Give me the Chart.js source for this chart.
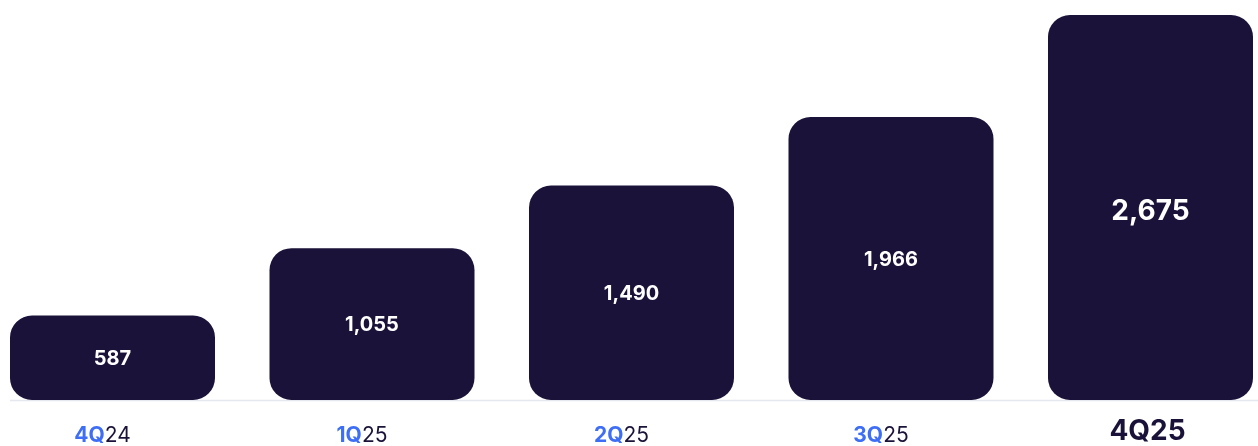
<!DOCTYPE html>
<html>
<head>
<meta charset="utf-8">
<script src="https://cdn.jsdelivr.net/npm/chart.js@4"></script>
<style>
  html, body { margin: 0; padding: 0; background: #fff; }
  #wrap { width: 1258px; height: 446px; position: relative; }
</style>
</head>
<body>
<div id="wrap"><canvas id="barChart"></canvas></div>
<script>
var quarters = ["4Q", "1Q", "2Q", "3Q", "4Q"];
var years = ["24", "25", "25", "25", "25"];
var values = [587, 1055, 1490, 1966, 2675];

var navy = "#1a1238";
var blue = "#3d6ef5";
var fontName = "Inter, 'Open Sans', sans-serif";

// labels inside bars + split-colour quarter labels under axis
var labelPlugin = {
    id: "labelPlugin",
    beforeDatasetsDraw: function (chart) {
        var ctx = chart.ctx;
        var y0 = chart.scales.y.getPixelForValue(0);
        ctx.save();
        ctx.strokeStyle = "#e6e8ef";
        ctx.lineWidth = 1.5;
        ctx.beginPath();
        ctx.moveTo(10, y0 + 0.5);
        ctx.lineTo(chart.width, y0 + 0.5);
        ctx.stroke();
        ctx.restore();
    },
    afterDraw: function (chart) {
        var ctx = chart.ctx;
        var meta = chart.getDatasetMeta(0);
        var last = values.length - 1;
        ctx.save();
        ctx.textBaseline = "middle";
        meta.data.forEach(function (bar, i) {
            var mid = (bar.y + bar.base) / 2;
            ctx.fillStyle = "#fff";
            ctx.textAlign = "center";
            ctx.font = (i === last ? "bold 28px " : "bold 20px ") + fontName;
            ctx.fillText(values[i].toLocaleString("en-US"), bar.x, mid + (i === last ? 4 : 1));

            var x = chart.scales.x.getPixelForTick(i);
            var y = 436;
            if (i === last) {
                ctx.font = "bold 28px " + fontName;
                ctx.fillStyle = navy;
                ctx.textAlign = "center";
                ctx.fillText(quarters[i] + years[i], x - 3, y - 4);
            } else {
                ctx.font = "bold 21px " + fontName;
                var w1 = ctx.measureText(quarters[i]).width;
                ctx.font = "21px " + fontName;
                var w2 = ctx.measureText(years[i]).width;
                var start = x - 10 - (w1 + w2) / 2;
                ctx.textAlign = "left";
                ctx.font = "bold 21px " + fontName;
                ctx.fillStyle = blue;
                ctx.fillText(quarters[i], start, y);
                ctx.font = "21px " + fontName;
                ctx.fillStyle = navy;
                ctx.fillText(years[i], start + w1, y);
            }
        });
        ctx.restore();
    }
};

var barCanvas = document.getElementById("barChart").getContext("2d");
new Chart(barCanvas, {
    type: "bar",
    data: {
        labels: quarters.map(function (q, i) { return q + years[i]; }),
        datasets: [
            {
                data: values,
                backgroundColor: navy,
                borderRadius: 22,
                borderSkipped: false,
                barPercentage: 0.79,
                categoryPercentage: 1,
                clip: false,
            },
        ],
    },
    options: {
        responsive: true,
        maintainAspectRatio: false,
        animation: false,
        layout: {
            padding: { left: 112.5, right: 107.5, top: 15, bottom: 38 },
        },
        plugins: {
            legend: { display: false },
            tooltip: { enabled: false },
        },
        scales: {
            x: {
                offset: false,
                grid: { display: false },
                border: { display: false },
                ticks: { display: false },
            },
            y: {
                display: false,
                min: 0,
                max: Math.max.apply(null, values),
            },
        },
    },
    plugins: [labelPlugin],
});
</script>
</body>
</html>
